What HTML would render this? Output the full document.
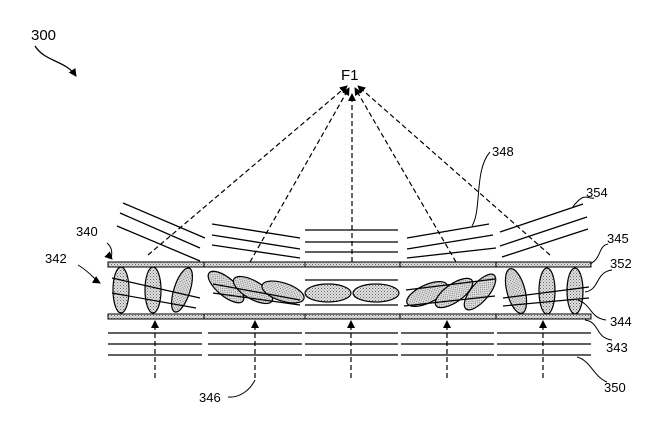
<!DOCTYPE html>
<html><head><style>body{margin:0;background:#fff}svg{display:block}</style></head><body>
<svg width="672" height="445" viewBox="0 0 672 445" xmlns="http://www.w3.org/2000/svg" font-family="Liberation Sans, sans-serif" font-size="13">
<defs>
<pattern id="dots" width="3" height="3" patternUnits="userSpaceOnUse"><rect width="3" height="3" fill="#e0e0e0"/><rect width="1" height="1" fill="#666"/><rect x="1.5" y="1.5" width="1" height="1" fill="#888"/></pattern>
<marker id="ah" markerWidth="8" markerHeight="8" refX="7" refY="4" orient="auto" markerUnits="userSpaceOnUse"><path d="M0,0 L8,4 L0,8 z" fill="#000"/></marker>
</defs>
<g stroke="#000" fill="none" stroke-width="1.3">
<path d="M35,46 C45,62 65,60 76,76" marker-end="url(#ah)"/>
<path d="M123,203 L205,238 M120,213 L200,248 M117,226 L200,261"/>
<path d="M212,224 L300,238 M212,235 L300,249 M212,245 L300,258"/>
<path d="M305,230 L398,230 M305,242 L398,242 M305,252 L398,252"/>
<path d="M407,238 L489,224 M407,249 L493,235 M407,258 L496,248"/>
<path d="M500,232 L583,204 M500,246 L587,217 M502,257 L588,229"/>
<path d="M108,333 L202,333 M108,344 L202,344 M108,355 L202,355"/>
<path d="M208,333 L302,333 M208,344 L302,344 M208,355 L302,355"/>
<path d="M305,333 L398,333 M305,344 L398,344 M305,355 L398,355"/>
<path d="M401,333 L494,333 M401,344 L494,344 M401,355 L494,355"/>
<path d="M497,333 L591,333 M497,344 L591,344 M497,355 L591,355"/>
</g>
<g stroke="#000" stroke-width="1" fill="url(#dots)">
<rect x="108" y="262" width="483" height="5"/>
<rect x="108" y="314" width="483" height="5"/>
</g>
<g stroke="#000" stroke-width="1">
<path d="M204,262 v5 M305,262 v5 M400,262 v5 M496,262 v5 M204,314 v5 M305,314 v5 M400,314 v5 M496,314 v5"/>
</g>
<g stroke="#000" stroke-width="1.2" fill="url(#dots)">
<ellipse cx="121" cy="290" rx="8" ry="23"/>
<ellipse cx="153" cy="290" rx="8" ry="23"/>
<ellipse cx="182" cy="290" rx="8" ry="23" transform="rotate(18 182 290)"/>
<ellipse cx="226" cy="287" rx="9" ry="22" transform="rotate(-50 226 287)"/>
<ellipse cx="253" cy="290" rx="9" ry="22" transform="rotate(-60 253 290)"/>
<ellipse cx="283" cy="292" rx="9" ry="22" transform="rotate(-72 283 292)"/>
<ellipse cx="328" cy="293" rx="23" ry="9"/>
<ellipse cx="376" cy="293" rx="23" ry="9"/>
<ellipse cx="427" cy="294" rx="9" ry="22" transform="rotate(65 427 294)"/>
<ellipse cx="454" cy="293" rx="9" ry="22" transform="rotate(55 454 293)"/>
<ellipse cx="480" cy="292" rx="9" ry="22" transform="rotate(40 480 292)"/>
<ellipse cx="516" cy="291" rx="9" ry="23" transform="rotate(-15 516 291)"/>
<ellipse cx="547" cy="291" rx="8" ry="23"/>
<ellipse cx="575" cy="291" rx="8" ry="23"/>
</g>
<g stroke="#000" fill="none" stroke-width="1.2">
<path d="M112,278 L200,298 M112,293 L196,308"/>
<path d="M213,284 L300,300 M213,293 L300,305"/>
<path d="M305,280 L398,280 M305,305 L398,305"/>
<path d="M406,290 L495,279 M404,306 L495,296"/>
<path d="M503,298 L589,287 M503,306 L589,298"/>
</g>
<g stroke="#000" stroke-width="1.2" fill="none" stroke-dasharray="5,3">
<path d="M155,378 L155,321" marker-end="url(#ah)"/>
<path d="M255,378 L255,321" marker-end="url(#ah)"/>
<path d="M351,378 L351,321" marker-end="url(#ah)"/>
<path d="M447,378 L447,321" marker-end="url(#ah)"/>
<path d="M543,378 L543,321" marker-end="url(#ah)"/>
<path d="M148,255 L347,86" marker-end="url(#ah)"/>
<path d="M250,262 L349,88" marker-end="url(#ah)"/>
<path d="M352,262 L352,94" marker-end="url(#ah)"/>
<path d="M456,262 L355,88" marker-end="url(#ah)"/>
<path d="M550,255 L358,86" marker-end="url(#ah)"/>
</g>
<g stroke="#000" stroke-width="1" fill="none">
<path d="M472,226 C482,210 474,170 490,152"/>
<path d="M572,208 C585,190 588,200 594,198"/>
<path d="M590,264 C602,258 598,246 608,244"/>
<path d="M585,292 C600,290 595,272 612,270"/>
<path d="M578,300 C592,305 590,318 606,320"/>
<path d="M585,320 C600,322 595,338 612,340"/>
<path d="M577,357 C590,360 595,378 607,382"/>
<path d="M255,380 C250,390 240,398 228,397"/>
<path d="M107,243 C115,250 110,257 112,259" marker-end="url(#ah)"/>
<path d="M78,265 C90,272 95,280 100,283" marker-end="url(#ah)"/>
</g>
<g fill="#000">
<text x="31" y="40" font-size="15">300</text>
<text x="341" y="80" font-size="15">F1</text>
<text x="492" y="156">348</text>
<text x="586" y="197">354</text>
<text x="76" y="236">340</text>
<text x="45" y="263">342</text>
<text x="607" y="243">345</text>
<text x="610" y="268">352</text>
<text x="610" y="326">344</text>
<text x="606" y="352">343</text>
<text x="604" y="392">350</text>
<text x="199" y="402">346</text>
</g>
</svg>
</body></html>
